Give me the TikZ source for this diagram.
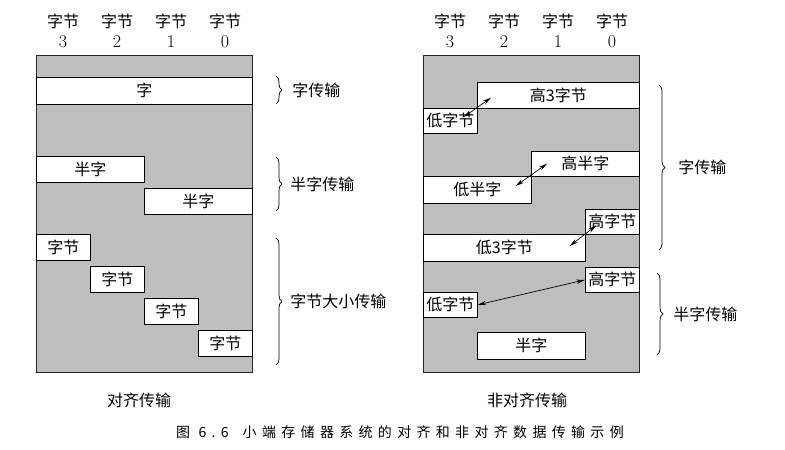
\documentclass[tikz,border=0pt]{standalone}
\usepackage{fontspec}
\newfontfamily\cjk{Noto Sans CJK SC}
\newfontfamily\capfont[LetterSpace=38]{Noto Sans CJK SC}
\usetikzlibrary{arrows.meta,decorations.pathreplacing}
\definecolor{memgray}{HTML}{BEBEBE}

\begin{document}
\begin{tikzpicture}[x=1pt,y=-1pt,font=\cjk\fontsize{16}{20}\selectfont,
 panel/.style={draw=black!85,fill=memgray,line width=.7pt},
 cell/.style={draw=black,fill=white,line width=.7pt,inner sep=0pt,anchor=north west},
 colhead/.style={align=center,inner sep=0pt},
 grp/.style={decorate,decoration={brace,amplitude=6pt},line width=.7pt},
 grplabel/.style={anchor=west,inner sep=0pt},
 swap/.style={{Stealth[length=3mm,width=1.5mm]}-{Stealth[length=3mm,width=1.5mm]},line width=.7pt}]
\path[use as bounding box] (0,0) rectangle (785,450);
% byte lanes, 54pt each
\foreach \n/\x in {3/63,2/117,1/171,0/225}
  \node[colhead] (la\n) at (\x,31) {字节\\{\rmfamily\fontsize{18}{20}\selectfont\n}};
\foreach \n/\x in {3/450,2/504,1/558,0/612}
  \node[colhead] (ua\n) at (\x,31) {字节\\{\rmfamily\fontsize{18}{20}\selectfont\n}};
\path[panel] (36,55) rectangle (252,372);
\path[panel] (423,55) rectangle (639,372);
% aligned transfers
\node[cell,minimum width=216,minimum height=27] (aw) at (36,77) {字};
\node[cell,minimum width=108,minimum height=26] (ah1) at (36,156) {半字};
\node[cell,minimum width=108,minimum height=26] (ah0) at (144,188) {半字};
\node[cell,minimum width=54,minimum height=26] (ab3) at (36,234) {字节};
\node[cell,minimum width=54,minimum height=26] (ab2) at (90,266) {字节};
\node[cell,minimum width=54,minimum height=26] (ab1) at (144,298) {字节};
\node[cell,minimum width=54,minimum height=26] (ab0) at (198,330) {字节};
% unaligned transfers
\node[cell,minimum width=162,minimum height=26] (uhi3) at (477,82) {高3字节};
\node[cell,minimum width=54,minimum height=25] (ulo1) at (423,108) {低字节};
\node[cell,minimum width=108,minimum height=25] (uhih) at (531,151) {高半字};
\node[cell,minimum width=108,minimum height=27] (uloh) at (423,176) {低半字};
\node[cell,minimum width=54,minimum height=25] (uhi1) at (585,209) {高字节};
\node[cell,minimum width=162,minimum height=27] (ulo3) at (423,234) {低3字节};
\node[cell,minimum width=54,minimum height=25] (uhb) at (585,267) {高字节};
\node[cell,minimum width=54,minimum height=25] (ulb) at (423,292) {低字节};
\node[cell,minimum width=108,minimum height=27] (uh) at (477,332) {半字};
\draw[swap] ([shift={(-14,9)}]ulo1.north east) -- ([shift={(14,-11)}]uhi3.south west);
\draw[swap] ([shift={(-16,10)}]uloh.north east) -- ([shift={(16,-13)}]uhih.south west);
\draw[swap] ([shift={(-16,12)}]ulo3.north east) -- ([shift={(11,-9)}]uhi1.south west);
\draw[swap] (uhb.west) -- (ulb.east);
% group braces
\draw[grp] (276,76) -- (276,104) node[grplabel,midway,right=16pt] (g1) {字传输};
\draw[grp] (276,157) -- (276,211) node[grplabel,midway,right=14pt] (g2) {半字传输};
\draw[grp] (276,238) -- (276,365) node[grplabel,midway,right=14pt] (g3) {字节大小传输};
\draw[grp] (659,85) -- (659,250) node[grplabel,midway,right=19pt] (g4) {字传输};
\draw[grp] (657,273) -- (657,355) node[grplabel,midway,right=16pt] (g5) {半字传输};
\node (t1) at (139,400) {对齐传输};
\node (t2) at (527,400) {非对齐传输};
\node[font=\capfont\fontsize{14}{16}\selectfont] (cap) at (400,432) {图 6.6\hspace{1em}小端存储器系统的对齐和非对齐数据传输示例};
\end{tikzpicture}
\end{document}
